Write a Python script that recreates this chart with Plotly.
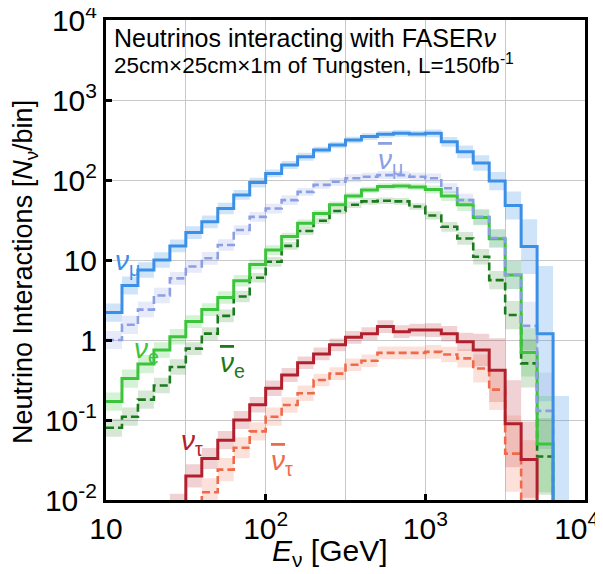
import plotly.graph_objects as go

# energy bins: 30 bins of 0.1 decade between 10 GeV and 10 TeV
bin_edges = [round(10 ** (1 + k / 10), 3) for k in range(31)]

# interactions per bin (None = no entry)
nu_mu = [2.2, 4.8, 7.5, 10, 15, 22, 30, 44, 65, 93, 121, 154, 195, 237, 274,
         316, 349, 372, 383, 376, 383, 300, 225, 163, 97, 48, 14.7, 1.2, 0.004, None]
nu_mu_bar = [1.0, 1.55, 2.4, 3.6, 5.9, 8.3, 10.5, 15.4, 23.7, 34.6, 44, 56, 71, 87, 95,
             105, 110, 115, 115, 110, 105, 79, 56, 34.6, 18.8, 6.5, 1.5, 0.13, None, None]
nu_e = [0.17, 0.33, 0.5, 0.75, 1.1, 1.7, 2.4, 3.4, 5.5, 8.8, 13.3, 19.6, 28.7, 38, 49,
        63, 75, 83, 84, 82, 76, 63, 49, 34, 18.5, 6.5, 0.7, 0.05, None, None]
nu_e_bar = [0.08, 0.11, 0.18, 0.27, 0.46, 0.78, 1.2, 2.0, 3.5, 6.0, 9.5, 15, 23, 31, 41,
            49, 54, 55, 54, 46.6, 36, 26, 18.6, 11, 5.6, 2.05, 0.51, 0.035, None, None]
nu_tau = [None, None, None, None, 0.006, 0.02, 0.033, 0.056, 0.1, 0.155, 0.25, 0.365, 0.52, 0.67, 0.87,
          1.08, 1.2, 1.47, 1.27, 1.33, 1.33, 1.2, 0.95, 0.75, 0.42, 0.09, 0.032, None, None, None]
nu_tau_bar = [None, None, None, None, None, None, 0.0125, 0.024, 0.045, 0.072, 0.11, 0.154, 0.216, 0.316, 0.38,
              0.49, 0.55, 0.69, 0.69, 0.69, 0.71, 0.66, 0.59, 0.44, 0.24, 0.038, 0.004, None, None, None]

# uncertainty band, as a multiplicative factor per bin
nu_mu_unc = [1.3, 1.3, 1.25, 1.25, 1.2, 1.2, 1.2, 1.18, 1.15, 1.15, 1.12, 1.12, 1.12, 1.1, 1.1,
             1.1, 1.1, 1.1, 1.1, 1.1, 1.12, 1.15, 1.2, 1.25, 1.3, 1.5, 2.2, 7, 50, None]
nu_mu_bar_unc = [1.3, 1.3, 1.25, 1.25, 1.2, 1.2, 1.2, 1.18, 1.15, 1.15, 1.15, 1.15, 1.12, 1.12, 1.12,
                 1.12, 1.12, 1.12, 1.12, 1.12, 1.15, 1.15, 1.2, 1.25, 1.3, 1.5, 2.0, 3.0, None, None]
nu_e_unc = [1.3, 1.3, 1.3, 1.25, 1.25, 1.2, 1.2, 1.2, 1.18, 1.15, 1.15, 1.12, 1.12, 1.1, 1.1,
            1.1, 1.1, 1.1, 1.1, 1.1, 1.12, 1.15, 1.2, 1.25, 1.3, 1.5, 2.0, 4.0, None, None]
nu_e_bar_unc = [1.3, 1.3, 1.3, 1.25, 1.25, 1.2, 1.2, 1.2, 1.18, 1.15, 1.15, 1.12, 1.12, 1.1, 1.1,
                1.1, 1.1, 1.1, 1.1, 1.1, 1.12, 1.15, 1.2, 1.25, 1.3, 1.5, 2.0, 3.0, None, None]
nu_tau_unc = [None, None, None, None, 2.0, 1.4, 1.35, 1.3, 1.3, 1.25, 1.25, 1.22, 1.2, 1.2, 1.2,
              1.2, 1.2, 1.2, 1.2, 1.2, 1.22, 1.25, 1.3, 1.6, 2.5, 3.5, 3.0, None, None, None]
nu_tau_bar_unc = [None, None, None, None, None, None, 1.5, 1.4, 1.35, 1.3, 1.3, 1.25, 1.25, 1.2, 1.2,
                  1.2, 1.2, 1.2, 1.2, 1.2, 1.22, 1.25, 1.3, 1.5, 1.8, 3.0, 14, None, None, None]

FLOOR = 1e-4


def steps(vals, factor=None, up=True):
    idx = [k for k, v in enumerate(vals) if v is not None]
    first, last = idx[0], idx[-1]
    xs, ys = [], []

    def val(k):
        v = vals[k]
        if factor is None:
            return v
        return v * factor[k] if up else v / factor[k]

    if first > 0:
        xs.append(bin_edges[first])
        ys.append(FLOOR)
    for k in range(first, last + 1):
        xs.append(bin_edges[k])
        ys.append(val(k))
    xs += [bin_edges[last + 1], bin_edges[last + 1]]
    ys += [val(last), FLOOR]
    return xs, ys


series = [
    # name, values, uncertainty, line colour, band colour, dash
    ("numu", nu_mu, nu_mu_unc, "#3b8fe6", "rgba(59,143,230,0.24)", "solid"),
    ("numubar", nu_mu_bar, nu_mu_bar_unc, "#8c9fe4", "rgba(140,159,228,0.22)", "8px,4px"),
    ("nue", nu_e, nu_e_unc, "#3cc43c", "rgba(60,196,60,0.22)", "solid"),
    ("nuebar", nu_e_bar, nu_e_bar_unc, "#1b7a1b", "rgba(27,122,27,0.18)", "8px,4px"),
    ("nutau", nu_tau, nu_tau_unc, "#b3202d", "rgba(179,32,45,0.2)", "solid"),
    ("nutaubar", nu_tau_bar, nu_tau_bar_unc, "#f06a4a", "rgba(240,106,74,0.2)", "8px,4px"),
]

fig = go.Figure()

# bands first
for name, vals, unc, col, band, dash in series:
    lx, ly = steps(vals, unc, up=False)
    ux, uy = steps(vals, unc, up=True)
    fig.add_trace(go.Scatter(x=lx, y=ly, mode="lines", line=dict(width=0, shape="hv"),
                             hoverinfo="skip", showlegend=False))
    fig.add_trace(go.Scatter(x=ux, y=uy, mode="lines", line=dict(width=0, shape="hv"),
                             fill="tonexty", fillcolor=band, hoverinfo="skip", showlegend=False))

# dashed lines below solid ones
for name, vals, unc, col, band, dash in series[::-1]:
    x, y = steps(vals)
    fig.add_trace(go.Scatter(x=x, y=y, mode="lines", name=name,
                             line=dict(color=col, width=3 if dash == "solid" else 2.6,
                                       shape="hv", dash=dash),
                             showlegend=False))

FONT = "Liberation Sans, Arial, sans-serif"

# the page puts the figure 8px in from the window corner
PAGE = 8
PLOT_L, PLOT_T, PLOT_W, PLOT_H = 106, 20, 479, 480


def px(X):
    return (X - PLOT_L) / PLOT_W


def py(Y):
    return (PLOT_T + PLOT_H - Y) / PLOT_H


def note(text, X, Y, size, color="black", **kw):
    return dict(text=text, x=px(X), y=py(Y), xref="paper", yref="paper", showarrow=False,
                xanchor=kw.pop("xanchor", "center"), yanchor="middle",
                font=dict(family=FONT, size=size, color=color), **kw)


NUBAR = "<span style='text-decoration:overline'><i>ν</i></span>"
labels = [
    ("<i>ν</i><sub>μ</sub>", 127, 262, "#3b8fe6"),
    (NUBAR + "<sub>μ</sub>", 390, 162, "#8c9fe4"),
    ("<i>ν</i><sub>e</sub>", 146, 350, "#3cc43c"),
    (NUBAR + "<sub>e</sub>", 232, 364, "#1b7a1b"),
    ("<i>ν</i><sub>τ</sub>", 192, 442, "#b3202d"),
    (NUBAR + "<sub>τ</sub>", 282, 462, "#f06a4a"),
]
annotations = [note(t, X, Y, 28, c) for t, X, Y, c in labels]

annotations += [
    note("Neutrinos interacting with FASER<i>ν</i>", 112, 38, 25, xanchor="left"),
    note("25cm×25cm×1m of Tungsten, L=150fb<sup>-1</sup>", 112, 64, 22.5, xanchor="left"),
    note("<i>E</i><sub>ν</sub> [GeV]", 330, 552, 30),
    note("Neutrino Interactions [<i>N</i><sub>ν</sub>/bin]", 25, 272, 27, textangle=-90),
]

W, H = 603 - PAGE, 574 - PAGE
fig.update_layout(
    width=W, height=H,
    margin=dict(l=PLOT_L - PAGE, r=W - (PLOT_L - PAGE) - PLOT_W,
                t=PLOT_T - PAGE, b=H - (PLOT_T - PAGE) - PLOT_H),
    paper_bgcolor="white", plot_bgcolor="white",
    annotations=annotations,
    xaxis=dict(type="log", range=[1, 4], automargin=False, ticklabeloverflow="allow",
               tickvals=[10, 100, 1000, 10000],
               # trailing spaces pull the last label back inside the window
               ticktext=["10", "10<sup>2</sup>", "10<sup>3</sup>", "10<sup>4</sup>\u00a0\u00a0"],
               ticks="inside", ticklen=6, tickwidth=3, tickcolor="black",
               showgrid=True, gridcolor="#c8c8c8", gridwidth=1,
               minor=dict(tickvals=[31.62, 316.2, 3162], showgrid=True, gridcolor="#c8c8c8", ticks=""),
               showline=True, linecolor="black", linewidth=3, mirror=True,
               tickfont=dict(family=FONT, size=30, color="black"), zeroline=False),
    yaxis=dict(type="log", range=[-2, 4], automargin=False, ticklabeloverflow="allow",
               tickvals=[0.01, 0.1, 1, 10, 100, 1000, 10000],
               ticktext=["10<sup>-2</sup>", "10<sup>-1</sup>", "1", "10", "10<sup>2</sup>",
                         "10<sup>3</sup>", "10<sup>4</sup>"],
               ticks="inside", ticklen=6, tickwidth=3, tickcolor="black",
               showgrid=True, gridcolor="#c8c8c8", gridwidth=1,
               showline=True, linecolor="black", linewidth=3, mirror=True,
               tickfont=dict(family=FONT, size=30, color="black"), zeroline=False),
)

fig.write_html("out.html")
